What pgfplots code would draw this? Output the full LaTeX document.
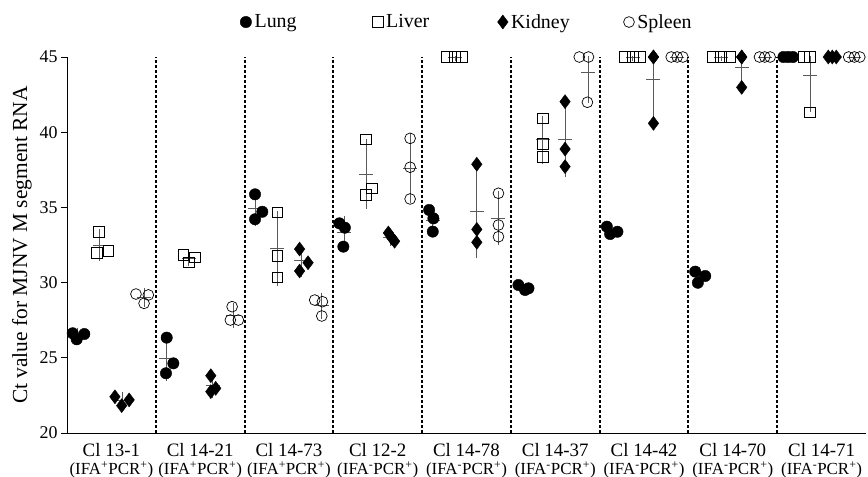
\documentclass[border=0pt]{standalone}
\usepackage{fontspec}
\setmainfont{Liberation Serif}
\usepackage{pgfplots}
\pgfplotsset{compat=1.18}
\pgfplotsset{myleg/.style={legend image code/.code={\draw[##1] plot coordinates {(0bp,0bp)};}}}
\newcommand{\sub}[1]{{\fontsize{17}{18}\selectfont #1}}
\pgfplotstableread{
x y
0.064 26.63
0.109 26.23
0.195 26.58
1.123 26.34
1.198 24.63
1.115 23.97
2.118 35.87
2.200 34.71
2.118 34.21
3.068 33.94
3.130 33.65
3.113 32.39
4.079 34.83
4.127 34.27
4.120 33.39
5.085 29.84
5.160 29.51
5.198 29.62
6.081 33.72
6.118 33.23
6.200 33.38
7.076 30.73
7.106 29.99
7.189 30.44
8.070 45
8.124 45
8.177 45
}\lung
\pgfplotstableread{
x y
0.360 33.40
0.335 31.99
0.465 32.10
1.310 31.84
1.440 31.68
1.370 31.35
2.370 34.67
2.370 31.77
2.370 30.35
3.366 39.53
3.433 36.27
3.366 35.82
4.280 45
4.366 45
4.450 45
5.360 40.92
5.360 39.20
5.360 38.37
6.287 45
6.370 45
6.456 45
7.275 45
7.369 45
7.463 45
8.297 45
8.372 45
8.364 41.32
}\liver
\pgfplotstableread{
x y
0.540 22.41
0.616 21.82
0.700 22.20
1.620 23.81
1.675 22.97
1.620 22.75
2.620 32.23
2.715 31.32
2.620 30.77
3.620 33.30
3.660 32.95
3.690 32.75
4.616 37.87
4.616 33.54
4.616 32.68
5.610 42.03
5.610 38.88
5.610 37.71
6.606 45
6.606 45
6.606 40.59
7.600 45
7.600 45
7.600 42.98
8.575 45
8.620 45
8.665 45
}\kidney
\pgfplotstableread{
x y
0.777 29.24
0.868 28.62
0.916 29.18
1.860 28.40
1.840 27.51
1.930 27.51
2.790 28.84
2.877 28.73
2.870 27.78
3.865 39.59
3.865 37.67
3.865 35.56
4.860 35.94
4.860 33.83
4.860 33.05
5.770 45
5.874 45
5.862 41.99
6.806 45
6.873 45
6.937 45
7.800 45
7.860 45
7.920 45
8.805 45
8.870 45
8.930 45
}\spleen
\pgfplotstableread{
x y p m
0.12 26.48 0.22 0.22
1.12 24.98 1.22 1.22
2.12 34.93 0.85 0.85
3.12 33.33 0.82 0.82
4.12 34.16 0.73 0.73
5.12 29.66 0.17 0.17
6.12 33.44 0.25 0.25
7.12 30.39 0.37 0.37
8.12 45 0 0
0.37 32.50 0.78 0.78
1.37 31.62 0.25 0.25
2.37 32.26 2.20 2.20
3.37 37.21 2.02 2.02
4.37 45 0 0
5.36 39.50 1.30 1.30
6.37 45 0 0
7.37 45 0 0
8.37 43.77 1.23 2.12
0.62 22.14 0.30 0.30
1.64 23.18 0.56 0.56
2.64 31.44 0.74 0.74
3.64 33.00 0.26 0.26
4.616 34.70 2.78 2.78
5.61 39.54 2.23 2.23
6.606 43.53 1.47 2.55
7.60 44.33 0.67 1.17
8.62 45 0 0
0.87 29.01 0.34 0.34
1.87 27.81 0.51 0.51
2.87 28.45 0.58 0.58
3.865 37.61 2.02 2.02
4.86 34.27 1.50 1.50
5.87 44.00 1.00 1.74
6.87 45 0 0
7.86 45 0 0
8.87 45 0 0
}\stats
\begin{document}
\begin{tikzpicture}
\path[use as bounding box] (-67bp,-44bp) rectangle (801bp,433bp);
\begin{axis}[
 at={(0,0)}, anchor=south west,
 scale only axis, width=799bp, height=376bp,
 xmin=0, xmax=9, ymin=20, ymax=45,
 axis x line*=bottom, axis y line*=left,
 axis line style={line width=0.8bp, -},
 ytick={20,25,30,35,40,45},
 y tick label style={font=\fontsize{18}{18}\selectfont},
 /pgf/number format/assume math mode=true,
 tick align=outside,
 ytick style={line width=0.8bp, black},
 major tick length=6bp,
 xtick={0.5,1.5,2.5,3.5,4.5,5.5,6.5,7.5,8.5},
 x tick style={draw=none},
 xticklabels={
  {Cl 13-1\\\sub{(IFA\textsuperscript{+}PCR\textsuperscript{+})}},
  {Cl 14-21\\\sub{(IFA\textsuperscript{+}PCR\textsuperscript{+})}},
  {Cl 14-73\\\sub{(IFA\textsuperscript{+}PCR\textsuperscript{+})}},
  {Cl 12-2\\\sub{(IFA\textsuperscript{-}PCR\textsuperscript{+})}},
  {Cl 14-78\\\sub{(IFA\textsuperscript{-}PCR\textsuperscript{+})}},
  {Cl 14-37\\\sub{(IFA\textsuperscript{-}PCR\textsuperscript{+})}},
  {Cl 14-42\\\sub{(IFA\textsuperscript{-}PCR\textsuperscript{+})}},
  {Cl 14-70\\\sub{(IFA\textsuperscript{-}PCR\textsuperscript{+})}},
  {Cl 14-71\\\sub{(IFA\textsuperscript{-}PCR\textsuperscript{+})}}},
 xticklabel style={align=center, font=\fontsize{19}{18}\selectfont, inner sep=0pt, yshift=-4bp},
 ylabel={Ct value for MJNV M segment RNA},
 ylabel style={at={(axis description cs:-0.0563,0.5)}, anchor=center, font=\fontsize{21.5}{21.5}\selectfont},
 legend columns=4,
 legend style={at={(rel axis cs:0.2165,1.093)}, anchor=west, draw=none, fill=none, inner sep=0pt, font=\fontsize{20}{20}\selectfont, nodes={inner xsep=3bp, inner ysep=0bp}},
]
\draw[black, line width=1.9bp, dash pattern=on 3bp off 2bp] (axis cs:1,20) -- (axis cs:1,45);
\draw[black, line width=1.9bp, dash pattern=on 3bp off 2bp] (axis cs:2,20) -- (axis cs:2,45);
\draw[black, line width=1.9bp, dash pattern=on 3bp off 2bp] (axis cs:3,20) -- (axis cs:3,45);
\draw[black, line width=1.9bp, dash pattern=on 3bp off 2bp] (axis cs:4,20) -- (axis cs:4,45);
\draw[black, line width=1.9bp, dash pattern=on 3bp off 2bp] (axis cs:5,20) -- (axis cs:5,45);
\draw[black, line width=1.9bp, dash pattern=on 3bp off 2bp] (axis cs:6,20) -- (axis cs:6,45);
\draw[black, line width=1.9bp, dash pattern=on 3bp off 2bp] (axis cs:7,20) -- (axis cs:7,45);
\draw[black, line width=1.9bp, dash pattern=on 3bp off 2bp] (axis cs:8,20) -- (axis cs:8,45);
\addplot[forget plot, only marks, color=gray!70!black, mark=-, mark size=7bp, mark options={line width=0.9bp},
 error bars/.cd, y dir=both, y explicit, error mark=-, error mark options={mark size=4.5bp, line width=0.9bp}, error bar style={line width=0.9bp}]
 table[x=x, y=y, y error plus=p, y error minus=m] {\stats};
\addplot[only marks, black, mark=*, mark size=5.7bp, myleg] table[x=x,y=y] {\lung};
\addlegendentry{\makebox[114.7bp][l]{Lung}}
\addplot[only marks, black, mark=square, mark size=5.4bp, mark options={line width=0.7bp}, myleg] table[x=x,y=y] {\liver};
\addlegendentry{\makebox[108.5bp][l]{Liver}}
\addplot[only marks, black, mark=diamond*, mark size=7bp, myleg] table[x=x,y=y] {\kidney};
\addlegendentry{\makebox[109.5bp][l]{Kidney}}
\addplot[only marks, black, mark=o, mark size=5.4bp, mark options={line width=0.7bp}, myleg] table[x=x,y=y] {\spleen};
\addlegendentry{Spleen}
\end{axis}
\end{tikzpicture}
\end{document}
